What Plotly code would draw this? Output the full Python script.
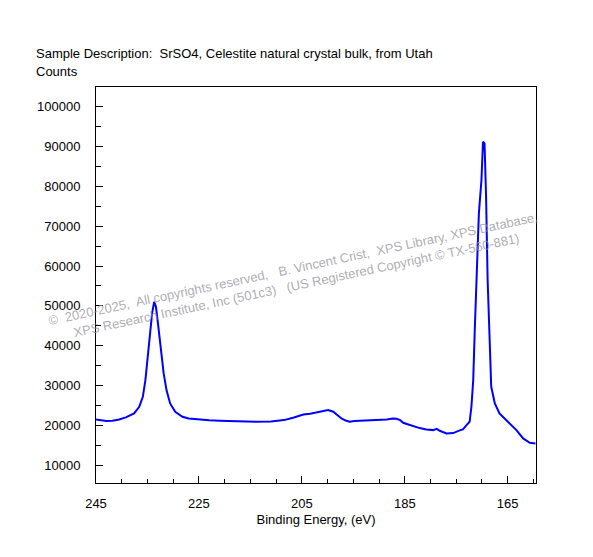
import plotly.graph_objects as go

# XPS spectrum
binding_energy = [
    245.0, 244.0, 243.0, 241.8, 240.5, 239.2, 238.3, 237.6, 236.6, 235.9,
    235.4, 234.97, 234.5, 234.1, 233.7, 233.35, 232.96, 232.5, 231.85, 231.3,
    230.6, 229.6, 228.2, 227.0, 225.6, 223.0, 221.0, 219.1, 216.5, 213.9,
    211.0, 208.5, 206.7, 205.5, 204.7, 203.4, 202.2, 201.0, 199.9, 198.9,
    198.0, 197.3, 196.5, 195.7, 194.8, 193.7, 191.8, 189.9, 188.5, 187.3,
    186.6, 185.9, 185.3, 184.3, 183.4, 182.1, 180.8, 179.5, 178.8, 178.2,
    176.9, 175.6, 174.2, 173.7, 173.0, 172.4, 172.05, 171.7, 171.4, 170.96,
    170.6, 170.1, 169.8, 169.5, 169.2, 168.9, 168.5, 168.2, 167.5, 166.6,
    165.6, 164.6, 163.3, 162.0, 160.7, 159.6,
]
counts = [
    21480, 21200, 21050, 21130, 21450, 21990, 22600, 22990, 24650, 27160,
    31360, 37210, 43920, 48110, 51030, 49770, 45600, 39720, 33040, 28840,
    25500, 23390, 22140, 21700, 21480, 21250, 21150, 21060, 20950, 20880,
    20980, 21300, 21890, 22400, 22730, 22900, 23240, 23500, 23820, 23400,
    22500, 21730, 21200, 20880, 21050, 21130, 21250, 21310, 21450, 21730,
    21640, 21300, 20630, 20200, 19800, 19300, 18970, 18790, 19120, 18620,
    17960, 18040, 18790, 18970, 20050, 20880, 24650, 31360, 43920, 60680,
    73240, 81610, 91230, 90830, 77410, 56480, 39720, 29670, 25500, 22990,
    21700, 20480, 18790, 16710, 15600, 15430,
]

x_ticks = [245, 225, 205, 185, 165]
y_ticks = [10000, 20000, 30000, 40000, 50000, 60000, 70000, 80000, 90000, 100000]

sample_text = "Sample Description:  SrSO4, Celestite natural crystal bulk, from Utah"
y_label = "Counts"
x_label = "Binding Energy, (eV)"
watermark = ("©  2020-2025,  All copyrights reserved,   B. Vincent Crist,  XPS Library, XPS Database,"
             "<br>XPS Research Institute, Inc (501c3)   (US Registered Copyright © TX-560-881)")

font_name = "Liberation Sans, Arial, sans-serif"

fig = go.Figure()
fig.add_trace(go.Scatter(
    x=binding_energy, y=counts, mode="lines",
    line=dict(color="#0000ff", width=2), showlegend=False,
))

axis_common = dict(
    showline=True, linecolor="black", linewidth=1, mirror=True,
    showgrid=False, zeroline=False, ticks="inside", tickcolor="black",
    tickfont=dict(family=font_name, size=13, color="black"),
)

fig.update_xaxes(
    range=[245, 159.5], tickvals=x_ticks, ticklen=7,
    minor=dict(dtick=5, tick0=245, ticks="inside", ticklen=4, tickcolor="black"),
    title=dict(text=x_label, font=dict(family=font_name, size=13, color="black"), standoff=5),
    ticklabelstandoff=8,
    **axis_common,
)
fig.update_yaxes(
    range=[5500, 105000], tickvals=y_ticks, tickformat="d", ticklen=7,
    minor=dict(dtick=5000, tick0=0, ticks="inside", ticklen=5, tickcolor="black"),
    ticklabelstandoff=12,
    **axis_common,
)

fig.add_annotation(xref="paper", yref="paper", x=-0.141, y=1.084, xanchor="left", yanchor="middle",
                   text=sample_text, showarrow=False,
                   font=dict(family=font_name, size=13, color="black"))
fig.add_annotation(xref="paper", yref="paper", x=-0.141, y=1.04, xanchor="left", yanchor="middle",
                   text=y_label, showarrow=False,
                   font=dict(family=font_name, size=13, color="black"))
fig.add_annotation(xref="paper", yref="paper", x=0.453, y=0.519, xanchor="center", yanchor="middle",
                   text=watermark, showarrow=False, textangle=-12, align="center",
                   font=dict(family=font_name, size=13, color="rgba(145,145,155,0.75)"))

# the page adds an 8px offset, so margins are shifted to compensate
fig.update_layout(
    width=593, height=557,
    margin=dict(l=88, r=65, t=79, b=82),
    plot_bgcolor="white", paper_bgcolor="white",
)

fig.write_html("out.html")
